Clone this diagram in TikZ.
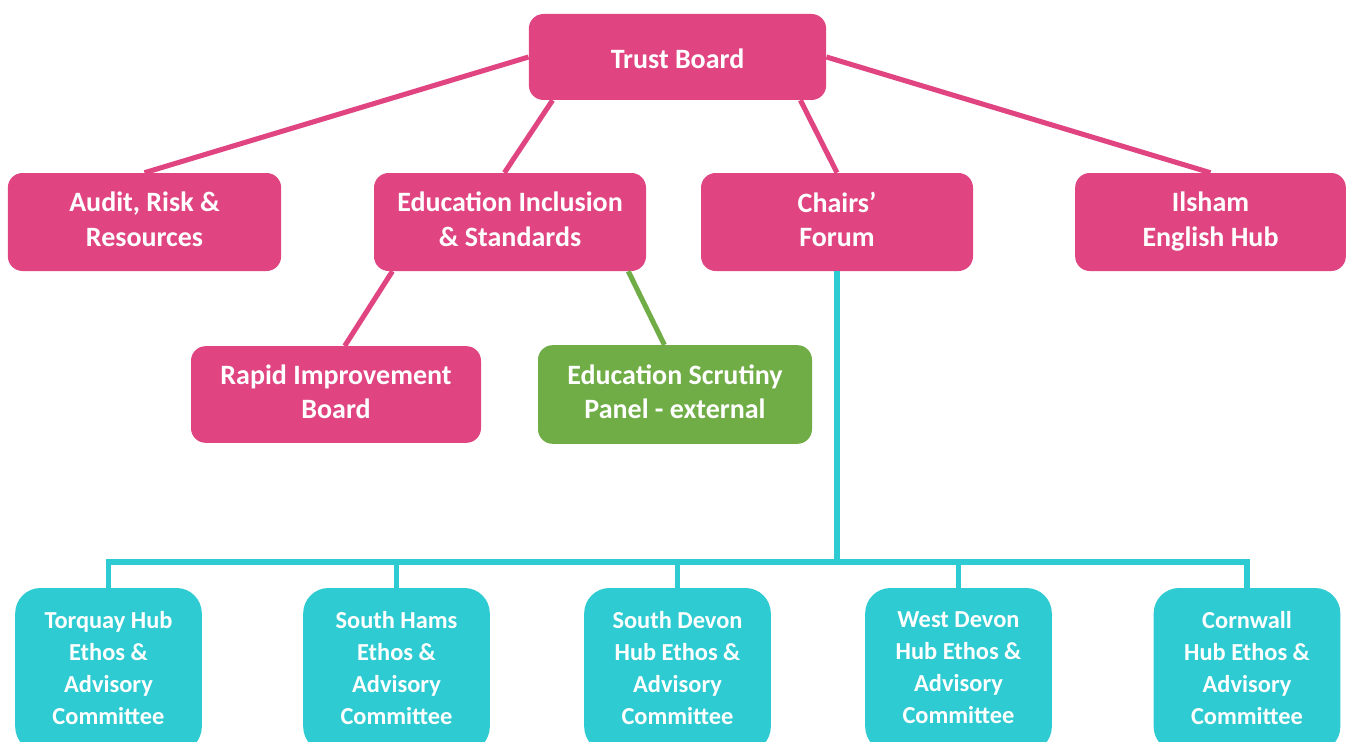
\documentclass[tikz,border=0pt]{standalone}
\usepackage{fontspec}
\setmainfont{Carlito}
\definecolor{pinkbox}{RGB}{224,69,130}
\definecolor{greenbox}{RGB}{112,173,71}
\definecolor{tealbox}{RGB}{46,204,210}
\newcommand\topstrut{\rule{0pt}{0.85\baselineskip}}
\newcommand\botstrut{\rule[-0.16\baselineskip]{0pt}{0.16\baselineskip}}
\tikzset{
  board/.style={rounded corners=11pt,fill=pinkbox,text=white,align=center,
    font=\fontsize{21}{26}\selectfont\bfseries,inner sep=0pt,
    execute at begin node=\topstrut,execute at end node=\botstrut},
  panel/.style={board,fill=greenbox},
  hub/.style={board,rounded corners=19pt,fill=tealbox,
    font=\fontsize{18.3}{24}\selectfont\bfseries,
    minimum width=140pt,minimum height=123pt},
  link/.style={line width=3.8pt,pinkbox},
}
\begin{document}
\begin{tikzpicture}[x=0.75pt,y=-0.75pt]
\useasboundingbox(0,0) rectangle (1346,742);
% top row
\node[board,minimum width=223pt,minimum height=64.5pt](tb) at (677.5,57){Trust Board};
\node[board,minimum width=205pt,minimum height=73.5pt](arr) at (144.5,222){Audit, Risk \&\\Resources};
\node[board,minimum width=204pt,minimum height=73.5pt](edu) at (510,222){Education Inclusion\\\& Standards};
\node[board,minimum width=204pt,minimum height=73.5pt](cf) at (837,222){Chairs'\\Forum};
\node[board,minimum width=203pt,minimum height=73.5pt](ilsham) at (1210.5,222){Ilsham\\English Hub};
\node[board,minimum width=217.5pt,minimum height=72.5pt](rib) at (336,394.5){Rapid Improvement\\Board};
\node[panel,minimum width=205.5pt,minimum height=74pt](esp) at (675,394.5){Education Scrutiny\\Panel - external};
% hubs
\node[hub](torquay) at (108.5,670){Torquay Hub\\Ethos \&\\Advisory\\Committee};
\node[hub](shams) at (396.5,670){South Hams\\Ethos \&\\Advisory\\Committee};
\node[hub](sdevon) at (677.5,670){South Devon\\Hub Ethos \&\\Advisory\\Committee};
\node[hub](wdevon) at (958.5,670){West Devon\\Hub Ethos \&\\Advisory\\Committee};
\node[hub](cornwall) at (1247,670){Cornwall\\Hub Ethos \&\\Advisory\\Committee};
% links
\draw[link](tb.west)--(arr.north);
\draw[link](tb.east)--(ilsham.north);
\draw[link]([xshift=18pt]tb.south west)--([xshift=98pt]edu.north west);
\draw[link]([xshift=-19.5pt]tb.south east)--(cf.north);
\draw[link]([xshift=14pt]edu.south west)--([xshift=115.5pt]rib.north west);
\draw[link,greenbox]([xshift=-13.5pt]edu.south east)--([xshift=95pt]esp.north west);
\coordinate(bus) at (837,562);
\draw[link,tealbox](cf.south)--(bus);
\draw[link,tealbox](torquay.north)|-(bus)-|(cornwall.north);
\foreach \h in {shams,sdevon,wdevon}
  \draw[link,tealbox](\h.north)--(\h.north|-bus);
\end{tikzpicture}
\end{document}
